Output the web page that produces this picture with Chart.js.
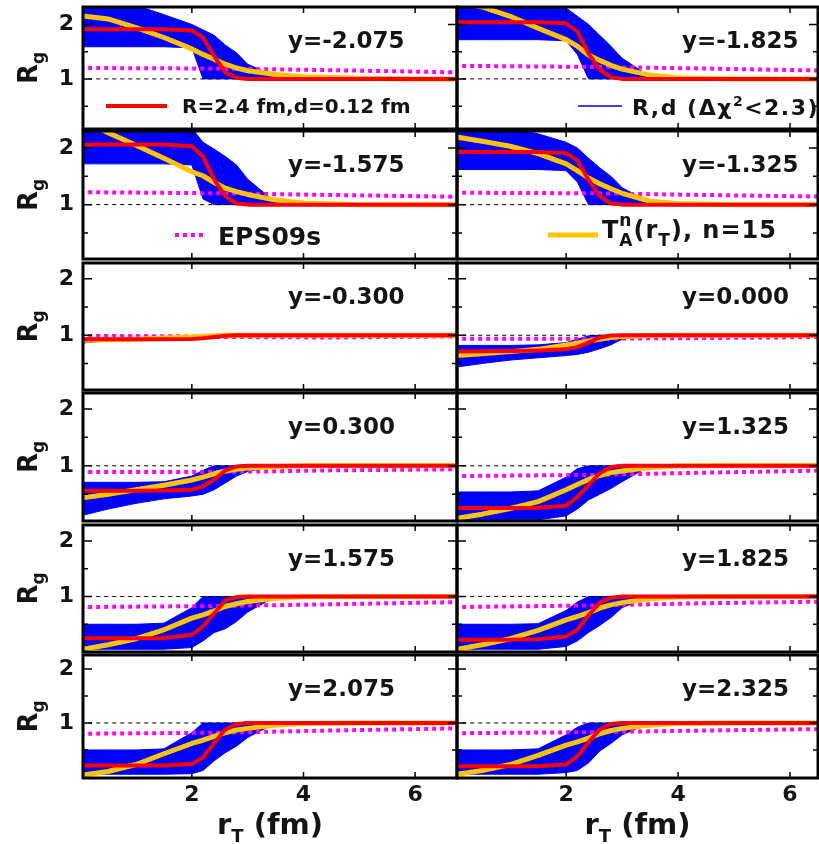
<!DOCTYPE html>
<html>
<head>
<meta charset="utf-8">
<script src="https://cdn.jsdelivr.net/npm/chart.js@4.4.1/dist/chart.umd.min.js"></script>
<style>
html, body { margin: 0; padding: 0; background: #fff; }
#wrap { position: relative; width: 819px; height: 844px; overflow: hidden; }
#wrap canvas { position: absolute; }
</style>
</head>
<body>
<div id="wrap"></div>
<script>
// r_T grid (fm) shared by the curves
var rT = [0, 0.5, 1, 1.5, 2, 2.2, 2.4, 2.6, 2.8, 3, 3.5, 4, 5, 6, 6.75];
var epsR = [0, 2.5, 4.5, 6.75];
var unitR = [0, 6.75];
var unity = [1, 1];
var xTicks = [2, 4, 6];
var yLabels = [1, 2];
var yMarks = [0.5, 1, 1.5, 2];

var rapidity = ['y=-2.075', 'y=-1.825', 'y=-1.575', 'y=-1.325', 'y=-0.300', 'y=0.000',
                'y=0.300', 'y=1.325', 'y=1.575', 'y=1.825', 'y=2.075', 'y=2.325'];

// red: R=2.4 fm, d=0.12 fm
var wsFit = [
    [1.91,1.91,1.91,1.91,1.89,1.76,1.42,1.12,1.02,1,1,1,1,1,1],
    [2.04,2.04,2.04,2.04,2.02,1.87,1.47,1.17,1.03,1,1,1,1,1,1],
    [2.06,2.06,2.06,2.06,2.03,1.85,1.44,1.15,1.02,1,1,1,1,1,1],
    [1.93,1.93,1.93,1.93,1.91,1.78,1.44,1.15,1.02,1,1,1,1,1,1],
    [0.93,0.93,0.93,0.93,0.935,0.945,0.97,0.99,1,1,1,1,1,1,1],
    [0.71,0.715,0.72,0.73,0.75,0.79,0.87,0.96,0.995,1,1,1,1,1,1],
    [0.56,0.56,0.56,0.565,0.58,0.64,0.76,0.92,0.99,1,1,1,1,1,1],
    [0.26,0.26,0.26,0.265,0.3,0.45,0.66,0.87,0.98,1,1,1,1,1,1],
    [0.25,0.25,0.25,0.25,0.31,0.46,0.7,0.93,0.99,1,1,1,1,1,1],
    [0.22,0.22,0.22,0.23,0.28,0.4,0.66,0.89,0.98,1,1,1,1,1,1],
    [0.21,0.21,0.21,0.21,0.24,0.36,0.63,0.88,0.98,1,1,1,1,1,1],
    [0.2,0.2,0.2,0.2,0.23,0.38,0.64,0.88,0.98,1,1,1,1,1,1]
];

// yellow: T_A^n(r_T), n=15
var tanFit = [
    [2.16,2.1,1.94,1.76,1.55,1.45,1.36,1.27,1.2,1.15,1.08,1.04,1.01,1,1],
    [2.42,2.32,2.15,1.93,1.72,1.6,1.44,1.34,1.25,1.18,1.07,1.02,1,1,1],
    [2.5,2.27,2.05,1.82,1.58,1.51,1.39,1.29,1.23,1.18,1.08,1.03,1,1,1],
    [2.2,2.12,2.03,1.9,1.72,1.6,1.47,1.37,1.28,1.2,1.06,1.02,1,1,1],
    [0.91,0.92,0.93,0.95,0.97,0.98,0.99,1,1,1,1,1,1,1,1],
    [0.64,0.67,0.71,0.75,0.83,0.86,0.9,0.93,0.96,0.98,0.995,1,1,1,1],
    [0.43,0.5,0.58,0.66,0.75,0.8,0.86,0.91,0.94,0.96,0.985,1,1,1,1],
    [0.07,0.15,0.25,0.37,0.58,0.67,0.76,0.83,0.88,0.91,0.97,0.995,1,1,1],
    [0.04,0.13,0.24,0.4,0.61,0.67,0.74,0.82,0.87,0.91,0.97,0.995,1,1,1],
    [0.04,0.13,0.24,0.39,0.58,0.64,0.71,0.79,0.85,0.89,0.96,0.99,1,1,1],
    [0.03,0.1,0.23,0.43,0.62,0.68,0.75,0.82,0.87,0.9,0.96,0.99,1,1,1],
    [0.04,0.12,0.23,0.4,0.59,0.65,0.72,0.8,0.86,0.9,0.96,0.99,1,1,1]
];

// magenta dotted: EPS09s
var eps09s = [
    [1.2,1.19,1.16,1.12],
    [1.24,1.22,1.19,1.15],
    [1.22,1.2,1.17,1.14],
    [1.21,1.2,1.17,1.14],
    [0.99,0.97,0.96,0.98],
    [0.94,0.94,0.95,0.97],
    [0.89,0.89,0.92,0.94],
    [0.82,0.84,0.88,0.92],
    [0.81,0.83,0.86,0.9],
    [0.81,0.84,0.88,0.91],
    [0.8,0.82,0.86,0.9],
    [0.81,0.83,0.86,0.89]
];

// blue: envelope of R,d curves with delta chi2 < 2.3
var bandHi = [
    [2.4,2.4,2.35,2.18,2.0,1.9,1.8,1.62,1.48,1.27,1.04,1.01,1,1,1],
    [2.4,2.4,2.4,2.4,2.3,2.15,2.0,1.8,1.6,1.38,1.04,1.01,1,1,1],
    [2.4,2.4,2.4,2.4,2.35,2.1,1.98,1.85,1.7,1.45,1.04,1.01,1,1,1],
    [2.4,2.4,2.35,2.25,2.1,2.0,1.82,1.65,1.5,1.3,1.03,1.01,1,1,1],
    [0.95,0.95,0.95,0.95,0.96,0.97,0.99,1,1,1,1,1,1,1,1],
    [0.82,0.82,0.82,0.83,0.87,0.93,0.99,1,1,1,1,1,1,1,1],
    [0.71,0.71,0.71,0.72,0.82,0.92,1,1,1,1,1,1,1,1,1],
    [0.54,0.54,0.54,0.56,0.8,0.95,1,1,1,1,1,1,1,1,1],
    [0.5,0.5,0.5,0.52,0.8,1,1,1,1,1,1,1,1,1,1],
    [0.5,0.5,0.5,0.51,0.75,0.9,1,1,1,1,1,1,1,1,1],
    [0.5,0.5,0.5,0.52,0.82,1,1,1,1,1,1,1,1,1,1],
    [0.5,0.5,0.5,0.52,0.78,0.92,1,1,1,1,1,1,1,1,1]
];
var bandLo = [
    [1.59,1.59,1.59,1.59,1.57,1,1,1,1,1,1,1,1,1,1],
    [1.72,1.72,1.72,1.72,1.7,1.45,1,1,1,1,1,1,1,1,1],
    [1.72,1.72,1.72,1.72,1.7,1.1,1,1,1,1,1,1,1,1,1],
    [1.62,1.62,1.62,1.62,1.6,1.4,1,1,1,1,1,1,1,1,1],
    [0.86,0.9,0.91,0.92,0.93,0.94,0.96,0.99,1,1,1,1,1,1,1],
    [0.43,0.5,0.56,0.6,0.64,0.66,0.7,0.76,0.83,0.93,1,1,1,1,1],
    [0.12,0.24,0.34,0.42,0.47,0.5,0.58,0.7,0.82,0.9,1,1,1,1,1],
    [0.05,0.05,0.05,0.05,0.12,0.24,0.4,0.5,0.6,0.72,1,1,1,1,1],
    [0.05,0.05,0.05,0.05,0.08,0.2,0.35,0.42,0.55,0.72,1,1,1,1,1],
    [0.05,0.05,0.05,0.05,0.1,0.2,0.35,0.48,0.62,0.8,1,1,1,1,1],
    [0.05,0.05,0.05,0.05,0.06,0.12,0.3,0.45,0.57,0.73,1,1,1,1,1],
    [0.05,0.05,0.05,0.05,0.08,0.12,0.26,0.48,0.62,0.78,1,1,1,1,1]
];

// layout: [top, bottom, ymin, ymax] per row, [left, right, xmax] per column
var rowBox = [[7,129,0.08,2.32],[131,259,0.04,2.3],[263,390,0.03,2.28],
              [393,521,0.03,2.28],[525,652,0.0,2.29],[655,778,-0.02,2.26]];
var colBox = [[83,457,6.75],[457,818,6.5]];

var FONT = '"DejaVu Sans"';
var INK = '#141414';

var legends = {
    0: {x1:106, x2:167, y:106, color:'#ff0000', w:4, tx:182, ty:113, gap:'0px',
        parts:[{t:'R=2.4 fm,d=0.12 fm', s:20}]},
    1: {x1:578, x2:622, y:106, color:'#0000ff', w:1.5, tx:632, ty:115, gap:'1.5px',
        parts:[{t:'R,d (\u0394\u03c7', s:22}, {t:'2', s:14, dy:-9}, {t:'<2.3)', s:22}]},
    2: {x1:175, x2:207, y:235, color:'#ff00ff', w:4, dash:[4,4], tx:218, ty:245, gap:'0px',
        parts:[{t:'EPS09s', s:25}]},
    3: {x1:548, x2:598, y:235, color:'#ffc400', w:5, tx:602, ty:238, gap:'1px',
        parts:[{t:'T', s:24}, {t:'n', s:17, dy:-12, hold:true}, {t:'A', s:17, dy:8},
               {t:'(r', s:24}, {t:'T', s:17, dy:8}, {t:'), n=15', s:24}]}
};

function pts(xs, ys) {
    return xs.map(function(x, k) { return {x: x, y: ys[k]}; });
}

function rich(ctx, x, y, parts) {
    parts.forEach(function(p) {
        ctx.font = 'bold ' + p.s + 'px ' + FONT;
        ctx.fillText(p.t, x, y + (p.dy || 0));
        if (!p.hold) x += ctx.measureText(p.t).width;
    });
}

function richWidth(ctx, parts) {
    var w = 0;
    parts.forEach(function(p) {
        ctx.font = 'bold ' + p.s + 'px ' + FONT;
        if (!p.hold) w += ctx.measureText(p.t).width;
    });
    return w;
}

function noPad(s) {
    s.paddingTop = 0; s.paddingBottom = 0; s.paddingLeft = 0; s.paddingRight = 0;
}

var wrap = document.getElementById('wrap');

rapidity.forEach(function(label, i) {
    var row = Math.floor(i / 2), col = i % 2;
    var rb = rowBox[row], cb = colBox[col];
    var last = row === 5;
    var cLeft = col ? cb[0] - 2 : 0;
    var cTop = rb[0] - 2;
    var cW = cb[1] + 2 - cLeft;
    var cH = rb[1] - rb[0] + 2 + (last ? 66 : 2);

    var cv = document.createElement('canvas');
    cv.width = cW; cv.height = cH;
    cv.style.left = cLeft + 'px'; cv.style.top = cTop + 'px';
    cv.style.width = cW + 'px'; cv.style.height = cH + 'px';
    wrap.appendChild(cv);

    var panel = {
        id: 'panel' + i,
        afterDatasetsDraw: function(chart) {
            var ctx = chart.ctx, a = chart.chartArea;
            var xs = chart.scales.x, ys = chart.scales.y;
            ctx.save();
            // inward ticks
            ctx.strokeStyle = '#000';
            ctx.lineWidth = 1.5;
            ctx.beginPath();
            yMarks.forEach(function(v) {
                var py = ys.getPixelForValue(v), len = (v % 1 === 0) ? 9 : 5;
                ctx.moveTo(a.left, py); ctx.lineTo(a.left + len, py);
                ctx.moveTo(a.right, py); ctx.lineTo(a.right - len, py);
            });
            xTicks.forEach(function(v) {
                var px = xs.getPixelForValue(v);
                ctx.moveTo(px, a.top); ctx.lineTo(px, a.top + 6);
                ctx.moveTo(px, a.bottom); ctx.lineTo(px, a.bottom - 6);
            });
            ctx.stroke();
            // frame
            ctx.lineWidth = 3;
            ctx.strokeRect(a.left, a.top, a.right - a.left, a.bottom - a.top);

            // rapidity label
            ctx.fillStyle = INK;
            ctx.textBaseline = 'alphabetic';
            ctx.textAlign = 'left';
            ctx.font = 'bold 23px ' + FONT;
            ctx.fillText(label, a.left + (col ? 225 : 205), a.top + 41);

            // in-panel legend
            var lg = legends[i];
            if (lg) {
                ctx.beginPath();
                ctx.strokeStyle = lg.color;
                ctx.lineWidth = lg.w;
                ctx.setLineDash(lg.dash || []);
                ctx.moveTo(lg.x1 - cLeft, lg.y - cTop);
                ctx.lineTo(lg.x2 - cLeft, lg.y - cTop);
                ctx.stroke();
                ctx.setLineDash([]);
                ctx.letterSpacing = lg.gap;
                rich(ctx, lg.tx - cLeft, lg.ty - cTop, lg.parts);
                ctx.letterSpacing = '0px';
            }

            // y axis title R_g
            if (col === 0) {
                var ttl = [{t:'R', s:26}, {t:'g', s:17, dy:7}];
                var tw = richWidth(ctx, ttl);
                ctx.save();
                ctx.translate(37, (a.top + a.bottom) / 2);
                ctx.rotate(-Math.PI / 2);
                rich(ctx, -tw / 2, 0, ttl);
                ctx.restore();
            }

            // x axis title r_T (fm)
            if (last) {
                var xt = [{t:'r', s:29}, {t:'T', s:18, dy:8}, {t:' (fm)', s:29}];
                var xw = richWidth(ctx, xt);
                rich(ctx, (a.left + a.right) / 2 - xw / 2, 834 - cTop, xt);
            }
            ctx.restore();
        }
    };

    new Chart(cv, {
        type: 'line',
        data: {
            datasets: [
                {data: pts(rT, wsFit[i]), borderColor: '#ff0000', borderWidth: 4},
                {data: pts(rT, tanFit[i]), borderColor: '#ffc400', borderWidth: 5},
                {data: pts(epsR, eps09s[i]), borderColor: '#ff00ff', borderWidth: 4, borderDash: [4, 4]},
                {data: pts(unitR, unity), borderColor: '#000000', borderWidth: 1, borderDash: [4, 4]},
                {data: pts(rT, bandHi[i]), borderColor: '#0000ff', borderWidth: 1,
                 backgroundColor: '#0000ff', fill: '+1'},
                {data: pts(rT, bandLo[i]), borderColor: '#0000ff', borderWidth: 1, fill: false}
            ]
        },
        options: {
            responsive: false,
            animation: false,
            events: [],
            layout: {padding: {top: 2, right: 2, bottom: last ? 0 : 2, left: col ? 2 : 0}},
            elements: {
                point: {radius: 0},
                line: {tension: 0, borderCapStyle: 'butt', borderJoinStyle: 'round'}
            },
            plugins: {legend: {display: false}, tooltip: {enabled: false}},
            scales: {
                x: {
                    type: 'linear',
                    min: 0.05,
                    max: cb[2],
                    display: last,
                    grid: {display: false, drawTicks: false},
                    border: {display: false},
                    afterBuildTicks: function(s) { s.ticks = xTicks.map(function(v) { return {value: v}; }); },
                    afterFit: function(s) { s.height = last ? 66 : 0; noPad(s); },
                    ticks: {font: {family: 'DejaVu Sans', size: 22, weight: 'bold'}, color: INK,
                            padding: 4, maxRotation: 0, autoSkip: false}
                },
                y: {
                    type: 'linear',
                    min: rb[2],
                    max: rb[3],
                    display: col === 0,
                    grid: {display: false, drawTicks: false},
                    border: {display: false},
                    afterBuildTicks: function(s) { s.ticks = yLabels.map(function(v) { return {value: v}; }); },
                    afterFit: function(s) { s.width = col === 0 ? 83 : 0; noPad(s); },
                    ticks: {font: {family: 'DejaVu Sans', size: 22, weight: 'bold'}, color: INK, padding: 9}
                }
            }
        },
        plugins: [panel]
    });
});
</script>
</body>
</html>
